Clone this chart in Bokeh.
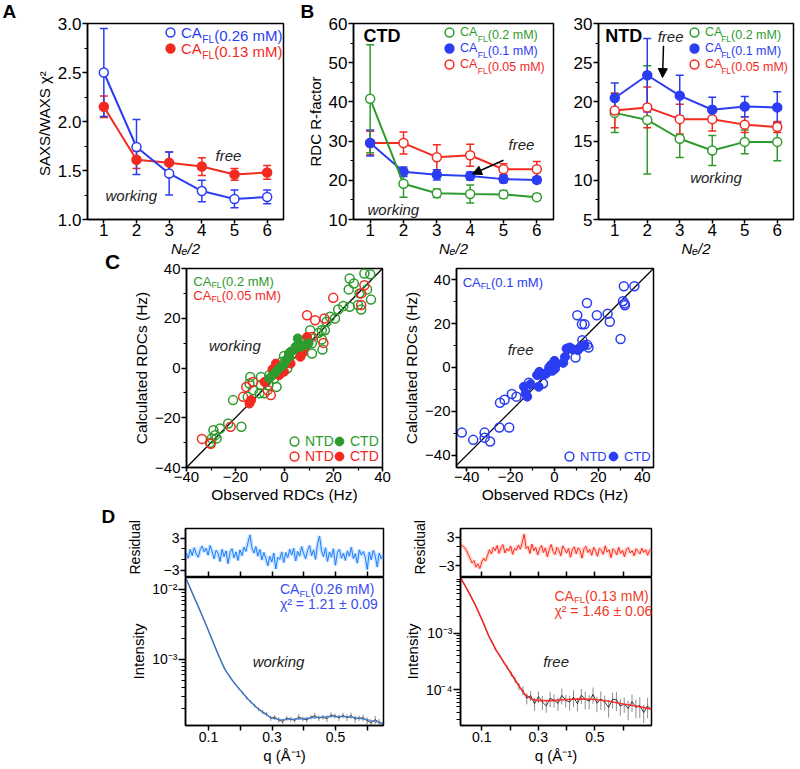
import numpy as np
from bokeh.plotting import figure
from bokeh.layouts import column, row
from bokeh.models import (Range1d, SingleIntervalTicker, FixedTicker, Label, Legend, LegendItem,
                          Whisker, TeeHead, ColumnDataSource, Arrow, NormalHead, Slope,
                          CustomJSTickFormatter, PrintfTickFormatter, Title, Div)
from bokeh.embed import file_html
from bokeh.resources import INLINE

FONT = "Liberation Sans"
BLUE = "#2b3df2"
RED = "#f22a1f"
GREEN = "#2e9b2e"
TXT = "#222222"

# ---------------- data ----------------
ne = [1, 2, 3, 4, 5, 6]
a_blue = [2.50, 1.74, 1.47, 1.29, 1.21, 1.23]
a_blue_err = [0.45, 0.28, 0.22, 0.11, 0.09, 0.07]
a_red = [2.15, 1.61, 1.58, 1.54, 1.46, 1.48]
a_red_err = [0.11, 0.09, 0.11, 0.09, 0.06, 0.07]

ctd_green = [40.8, 19.1, 16.7, 16.5, 16.4, 15.7]
ctd_green_err = [13.8, 3.4, 1.1, 2.3, 1.0, 0.8]
ctd_blue = [29.5, 22.2, 21.4, 21.1, 20.3, 20.1]
ctd_blue_err = [3.3, 1.2, 1.3, 1.0, 0.9, 0.8]
ctd_red = [29.5, 29.5, 25.9, 26.4, 22.8, 22.8]
ctd_red_err = [3.0, 2.8, 3.2, 2.8, 1.4, 2.0]

ntd_green = [18.6, 17.7, 15.3, 13.8, 14.9, 14.9]
ntd_green_err = [2.5, 6.9, 2.4, 1.9, 1.5, 2.4]
ntd_blue = [20.5, 23.4, 20.8, 19.0, 19.4, 19.3]
ntd_blue_err = [1.9, 4.7, 2.6, 1.6, 1.3, 2.0]
ntd_red = [18.9, 19.3, 17.8, 17.8, 17.1, 16.8]
ntd_red_err = [2.2, 2.6, 1.9, 1.5, 1.0, 0.7]

# panel C left (0.2 mM green, 0.05 mM red)
cg_ntd_obs = [26.6, 32.6, 35.0, 26.2, 28.3, 30.6, 33.7, 35.3, 30.0, 26.6, 24.0, 31.3, 21.9, 18.6, 20.6,
              17.2, 16.5, 15.2, 13.9, 10.5, 15.2, 11.2, 8.5, 5.8, 11.2, 7.2, 5.2, 3.8, 1.8, -0.2,
              -0.9, 0.5, -2.2, 1.1, -3.5, -6.2, -4.2, -9.6, -7.6, -14.0, -14.3, -12.9, -9.6, -8.2, -10.2,
              -6.6, -3.2, -15.0, -21.0, -17.6, -23.0, -26.3, -29.0, -28.3, -27.7, -29.7, -30.4, 15.5]
cg_ntd_calc = [36.0, 38.0, 37.7, 31.6, 34.0, 30.0, 31.6, 27.5, 25.3, 24.6, 24.9, 23.5, 23.5, 20.6, 19.9,
               18.6, 15.2, 15.2, 14.1, 15.2, 11.5, 9.9, 11.2, 8.5, 5.8, 7.2, 7.8, 5.8, 3.8, 4.8,
               2.5, 1.8, -0.2, -0.2, -0.9, -2.9, -4.2, -3.6, -5.6, -3.6, -6.2, -8.9, -6.9, -10.2, -10.2,
               -6.9, -7.6, -11.6, -12.9, -23.6, -22.3, -24.3, -25.0, -27.0, -28.3, -28.3, -30.1, 7.4]
cg_ctd_obs = [5.4, 5.8, 4.5, 3.8, 2.5, 1.8, 1.8, 0.7, -0.2, -1.1, -2.2, -3.5, -4.9, -6.2, 6.5, 8.5, 9.8]
cg_ctd_calc = [11.9, 9.9, 8.5, 7.2, 6.5, 5.8, 4.5, 3.2, 1.8, 0.7, -0.2, -1.5, -2.9, -4.2, 8.5, 9.2, 9.9]
cr_ntd_obs = [-33.7, -30.1, -22.0, -16.9, -15.6, -12.9, 9.2, 12.5, 16.3, 19.9, 15.9, 31.3, 32.6, 31.3, 11.2, -6.9, -5.6]
cr_ntd_calc = [-28.5, -30.5, -23.6, -11.6, -7.6, -5.6, 21.2, 19.2, 19.9, 28.2, 10.1, 30.0, 33.3, 25.3, 12.5, -8.9, -10.9]
cr_ctd_obs = [-14.3, -13.6, -4.9, -3.5, -0.2, 2.5, 6.5, 8.5, 9.2, 7.2, -8.2, -2.2]
cr_ctd_calc = [-14.3, -12.9, -0.5, 1.8, -1.5, 1.8, 4.5, 8.5, 12.5, 5.8, -5.6, -2.9]

# panel C right (0.1 mM blue)
cb_ntd_obs = [-42.2, -37.0, -31.8, -31.8, -29.3, -24.8, -22.7, -25.1, -20.6, -19.4, -17.3, -11.6, -13.1, -5.2, 9.6,
              10.4, 14.8, 12.5, 13.7, 12.7, 14.9, 15.5, 19.3, 24.2, 25.2, 30.1, 31.2, 31.6, 36.4, 31.9, 32.1]
cb_ntd_calc = [-29.7, -33.0, -29.7, -32.0, -33.8, -16.1, -14.7, -27.4, -27.4, -12.1, -13.3, -7.0, -9.5, -7.3, 4.5,
               23.8, 29.4, 19.7, 19.7, 12.4, 10.3, 9.1, 23.8, 24.5, 20.8, 13.0, 30.2, 37.0, 37.0, 29.1, 28.3]
cb_ctd_obs = [-13.9, -13.1, -12.4, -7.2, -6.9, -5.7, -4.2, -3.4, -2.4, -1.5, -0.9, 0.0, 1.0, 4.0, 4.8, 5.5,
              7.0, 8.5, 10.7, 12.2, 13.7, -10.9, -7.9, 0.3]
cb_ctd_calc = [-8.8, -11.8, -13.3, -8.8, -2.0, -3.0, -3.0, -2.4, 0.0, 1.1, -1.5, 3.0, 1.8, 2.1, 4.8, 8.6,
               9.1, 8.2, 7.9, 9.4, 10.2, -7.6, -3.5, -0.5]

# panel D residuals
dl_resid = [0.2, -0.8, 0.9, -0.3, 1.2, 0.1, -0.6, 0.8, 1.5, 0.4,
            1.1, -0.2, 1.6, 0.5, -0.9, 0.7, 0.2, -1.4, 0.9, -0.5,
            0.6, -1.8, 0.3, 1.0, -0.7, 0.4, -1.2, 0.8, -0.3, 1.3,
            0.5, 2.1, 3.6, 1.2, 0.2, 1.4, -0.4, 0.9, -1.1, 0.3,
            -0.8, -2.2, -0.4, -1.5, 0.2, -2.8, -0.6, -1.0, 0.4, -1.6,
            0.3, -0.7, 0.9, -0.2, 1.1, -1.3, 0.5, -0.4, 1.4, 0.1,
            -0.9, 0.7, 1.6, -0.3, 0.8, -1.0, 1.9, 3.4, 0.6, -0.5,
            1.2, -1.4, 0.4, -0.6, 1.0, -2.1, 0.3, 0.9, -0.8, 0.2,
            -1.2, 0.6, -0.4, 1.3, -0.9, 0.1, -1.7, 0.8, -0.2, 0.5,
            -0.6, -2.9, 0.4, -1.1, 0.7, -0.3, -2.4, 0.2, -0.9, -0.1]
dr_resid = [1.6, 1.2, 0.9, 0.3, -0.6, -1.5, -2.4, -1.9, -3.3, -2.6,
            -3.6, -2.2, -1.4, -2.0, -0.8, 0.4, -0.5, 0.9, 0.2, 1.3,
            -0.4, 0.8, 1.5, -0.3, 0.6, 0.1, 1.2, -0.6, 0.7, 0.3,
            1.4, 0.5, 1.9, 3.7, 0.6, 1.1, -0.4, 1.6, 0.2, 0.9,
            -0.7, 0.6, 1.3, -0.2, 0.8, -1.1, 0.4, 1.5, 0.0, -0.6,
            0.9, 0.3, -0.9, 1.2, 0.5, -0.3, 0.7, -1.2, 0.4, 1.0,
            -0.5, 0.8, 0.2, -1.4, 0.6, 1.1, -0.2, 0.5, -0.8, 0.9,
            0.1, -1.0, 0.7, 0.3, -0.6, 1.2, -0.1, 0.4, -1.3, 0.6,
            0.2, -0.7, 0.9, -0.4, 0.3, -1.1, 0.5, 0.8, -0.3, 0.2,
            -0.9, 0.6, 0.1, -0.5, 0.7, -0.2, 0.4, -0.8, 0.3, 0.5]
dl_resid_q = np.linspace(0.03, 0.65, len(dl_resid))
dr_resid_q = np.linspace(0.025, 0.70, len(dr_resid))

# panel D intensities (experimental curves and their relative errors)
dl_exp = [1.41e-2, 1.04e-2, 7.6e-3, 5.7e-3, 4.15e-3, 3.05e-3, 2.2e-3, 1.6e-3, 1.16e-3, 8.6e-4,
          6.7e-4, 5.5e-4, 4.6e-4, 3.9e-4, 3.35e-4, 2.85e-4, 2.5e-4, 2.2e-4, 1.95e-4, 1.78e-4,
          1.66e-4, 1.45e-4, 1.50e-4, 1.37e-4, 1.30e-4, 1.45e-4, 1.40e-4, 1.35e-4, 1.51e-4, 1.42e-4,
          1.37e-4, 1.50e-4, 1.57e-4, 1.45e-4, 1.50e-4, 1.43e-4, 1.61e-4, 1.56e-4, 1.47e-4, 1.59e-4,
          1.48e-4, 1.58e-4, 1.41e-4, 1.45e-4, 1.47e-4, 1.34e-4, 1.25e-4, 1.38e-4, 1.27e-4, 1.18e-4]
dl_exp_err = [0.01, 0.01, 0.01, 0.01, 0.01, 0.01, 0.01, 0.01, 0.02, 0.02,
              0.02, 0.03, 0.03, 0.04, 0.04, 0.05, 0.05, 0.06, 0.06, 0.07,
              0.07, 0.08, 0.07, 0.09, 0.08, 0.07, 0.09, 0.08, 0.10, 0.08,
              0.09, 0.07, 0.10, 0.09, 0.08, 0.11, 0.09, 0.08, 0.10, 0.09,
              0.11, 0.10, 0.12, 0.09, 0.11, 0.12, 0.10, 0.13, 0.11, 0.12]
dr_exp = [9.5e-3, 7.2e-3, 5.45e-3, 4.0e-3, 2.95e-3, 2.05e-3, 1.45e-3, 9.7e-4, 7.2e-4, 5.1e-4,
          4.1e-4, 3.1e-4, 2.5e-4, 1.9e-4, 1.5e-4, 1.15e-4, 9.7e-5, 7.1e-5, 7.9e-5, 5.7e-5,
          7.6e-5, 6.1e-5, 5.2e-5, 7.1e-5, 6.6e-5, 5.8e-5, 8.0e-5, 6.5e-5, 6.1e-5, 7.4e-5,
          5.7e-5, 8.0e-5, 6.9e-5, 6.3e-5, 8.3e-5, 5.8e-5, 6.9e-5, 6.1e-5, 4.9e-5, 6.8e-5,
          6.7e-5, 5.2e-5, 5.6e-5, 4.7e-5, 6.2e-5, 4.9e-5, 5.3e-5, 4.0e-5, 5.2e-5, 4.4e-5]
dr_exp_err = [0.01, 0.01, 0.01, 0.01, 0.02, 0.02, 0.02, 0.03, 0.03, 0.04,
              0.05, 0.06, 0.08, 0.10, 0.12, 0.15, 0.18, 0.22, 0.20, 0.25,
              0.23, 0.28, 0.24, 0.30, 0.26, 0.27, 0.31, 0.25, 0.29, 0.33,
              0.27, 0.30, 0.35, 0.28, 0.32, 0.30, 0.36, 0.29, 0.34, 0.31,
              0.37, 0.33, 0.30, 0.38, 0.34, 0.36, 0.40, 0.35, 0.39, 0.42]
dl_exp_q = np.linspace(0.03, 0.65, len(dl_exp))
dr_exp_q = np.linspace(0.025, 0.70, len(dr_exp))

# panel D fitted curves
dl_fit_q = [0.028, 0.05, 0.075, 0.1, 0.125, 0.15, 0.175, 0.2, 0.225, 0.25, 0.275, 0.3, 0.33, 0.36,
            0.40, 0.44, 0.48, 0.52, 0.56, 0.60, 0.651]
dl_fit_I = [1.48e-2, 8.7e-3, 4.79e-3, 2.57e-3, 1.35e-3, 7.41e-4, 5.01e-4, 3.63e-4, 2.69e-4, 2.09e-4,
            1.70e-4, 1.45e-4, 1.38e-4, 1.40e-4, 1.43e-4, 1.48e-4, 1.53e-4, 1.53e-4, 1.48e-4, 1.38e-4, 1.23e-4]
dr_fit_q = [0.025, 0.05, 0.075, 0.1, 0.125, 0.15, 0.175, 0.2, 0.225, 0.25, 0.275, 0.3, 0.35, 0.4,
            0.45, 0.5, 0.55, 0.6, 0.65, 0.70]
dr_fit_I = [9.55e-3, 5.75e-3, 3.31e-3, 1.78e-3, 8.91e-4, 5.13e-4, 3.24e-4, 2.09e-4, 1.32e-4, 8.51e-5,
            6.92e-5, 6.46e-5, 6.46e-5, 6.76e-5, 6.92e-5, 6.76e-5, 6.31e-5, 5.62e-5, 5.13e-5, 4.57e-5]

# ---------------- helpers ----------------
AW = {"C": 0.722, "A": 0.667, "F": 0.611, "L": 0.556}


def make_fig(w, h, xr, yr, bl, br, bt, bb, tick_size="17px", label_size="15px", **kw):
    p = figure(width=w, height=h, x_range=xr, y_range=yr, toolbar_location=None,
               output_backend="svg", min_border_left=bl, min_border_right=br,
               min_border_top=bt, min_border_bottom=bb, **kw)
    p.xgrid.visible = False
    p.ygrid.visible = False
    p.outline_line_color = "black"
    p.outline_line_width = 1.5
    p.outline_line_alpha = 1.0
    for ax in p.axis:
        ax.axis_line_width = 1.5
        ax.major_tick_line_width = 1.5
        ax.minor_tick_line_width = 1.2
        ax.major_tick_out = 5
        ax.major_tick_in = 0
        ax.minor_tick_out = 3
        ax.minor_tick_in = 0
        ax.major_label_text_font = FONT
        ax.major_label_text_font_size = tick_size
        ax.major_label_text_color = "black"
        ax.axis_label_text_font = FONT
        ax.axis_label_text_font_size = label_size
        ax.axis_label_text_font_style = "normal"
        ax.axis_label_text_color = "black"
        ax.major_label_standoff = 1
        ax.axis_label_standoff = 2
    return p


def panel_letter(p, text, offset):
    p.title.text = text
    p.title.align = "left"
    p.title.vertical_align = "top"
    p.title.offset = offset
    p.title.standoff = 0
    p.title.text_font = FONT
    p.title.text_font_size = "19px"
    p.title.text_font_style = "bold"
    p.title.text_color = "black"


def side_title(p, text, standoff, offset):
    p.add_layout(Title(text=text, align="left", vertical_align="middle", standoff=standoff, offset=offset,
                       text_font=FONT, text_font_size="14px", text_font_style="normal",
                       text_color="black"), "left")


def series(p, x, y, err, color, filled):
    src = ColumnDataSource(dict(x=x, y=y,
                                up=[a + b for a, b in zip(y, err)],
                                lo=[a - b for a, b in zip(y, err)]))
    w = Whisker(source=src, base="x", upper="up", lower="lo", line_color=color, line_width=1.5,
                upper_head=TeeHead(size=8, line_color=color, line_width=1.5),
                lower_head=TeeHead(size=8, line_color=color, line_width=1.5), level="underlay")
    p.add_layout(w)
    p.line("x", "y", source=src, line_color=color, line_width=2)
    return p.scatter("x", "y", source=src, marker="circle", size=9, line_color=color, line_width=1.5,
                     fill_color=color if filled else "white")


def key(p, renderer, text, loc, color, size):
    """one legend entry: marker + first word of its text"""
    leg = Legend(items=[LegendItem(label=text, renderers=[renderer])], location=loc,
                 orientation="vertical", glyph_width=22, glyph_height=22, label_height=22,
                 label_width=0, label_standoff=0, padding=0, margin=0, spacing=0,
                 border_line_color=None, background_fill_alpha=0, label_text_font=FONT,
                 label_text_font_size=f"{size}px", label_text_color=color)
    p.add_layout(leg)


def fl_rest(p, x, y, color, rest, size, with_ca=False):
    """subscript FL and the concentration, placed after a 'CA' that starts at (x, y)"""
    sub = size * 0.68
    w_ca = (AW["C"] + AW["A"]) * size
    w_fl = (AW["F"] + AW["L"]) * sub
    common = dict(x=x, y=y, text_color=color, text_font=FONT, text_baseline="middle", text_align="left")
    if with_ca:
        p.add_layout(Label(text="CA", text_font_size=f"{size}px", **common))
    p.add_layout(Label(text="FL", text_font_size=f"{sub}px", x_offset=w_ca, y_offset=-size * 0.3, **common))
    p.add_layout(Label(text=rest, text_font_size=f"{size}px", x_offset=w_ca + w_fl, **common))


def note(p, x, y, text, size="15px", style="italic", color=TXT, align="left"):
    p.add_layout(Label(x=x, y=y, text=text, text_font=FONT, text_font_size=size, text_font_style=style,
                       text_color=color, text_baseline="middle", text_align=align))


def int_ticks(p):
    p.xaxis.ticker = SingleIntervalTicker(interval=1, num_minor_ticks=0)
    p.xaxis.major_tick_out = 4
    p.xaxis.major_label_standoff = 0
    p.xaxis.axis_label_standoff = 1
    p.xaxis.axis_label = "N\u2091/2"
    p.xaxis.axis_label_text_font_style = "italic"


# ---------------- Panel A ----------------
pA = make_fig(300, 259, Range1d(0.5, 6.5), Range1d(1.0, 3.0), 87, 17, 23, 40)
int_ticks(pA)
pA.yaxis.ticker = SingleIntervalTicker(interval=0.5, num_minor_ticks=2)
pA.yaxis.formatter = PrintfTickFormatter(format="%.1f")
pA.yaxis.axis_label = "SAXS/WAXS  \u03c7\u00b2"
rA_red = series(pA, ne, a_red, a_red_err, RED, True)
rA_blue = series(pA, ne, a_blue, a_blue_err, BLUE, False)
key(pA, rA_blue, "CA", (72, 176), BLUE, 15)
key(pA, rA_red, "CA", (72, 160), RED, 15)
fl_rest(pA, 3.377, 2.879, BLUE, "(0.26 mM)", 15)
fl_rest(pA, 3.377, 2.719, RED, " (0.13 mM)", 15)
note(pA, 4.42, 1.65, "free")
note(pA, 1.05, 1.24, "working")
panel_letter(pA, "A", -85)

# ---------------- Panel B CTD ----------------
pB1 = make_fig(270, 259, Range1d(0.5, 6.5), Range1d(10, 60), 53, 17, 23, 40)
int_ticks(pB1)
pB1.yaxis.ticker = SingleIntervalTicker(interval=10, num_minor_ticks=2)
pB1.yaxis.axis_label = "RDC R-factor"
rB1_red = series(pB1, ne, ctd_red, ctd_red_err, RED, False)
rB1_blue = series(pB1, ne, ctd_blue, ctd_blue_err, BLUE, True)
rB1_green = series(pB1, ne, ctd_green, ctd_green_err, GREEN, False)
key(pB1, rB1_green, "CA", (85, 176), GREEN, 12.5)
key(pB1, rB1_blue, "CA", (85, 160), BLUE, 12.5)
key(pB1, rB1_red, "CA", (85, 144), RED, 12.5)
fl_rest(pB1, 3.71, 56.98, GREEN, "(0.2 mM)", 12.5)
fl_rest(pB1, 3.71, 52.96, BLUE, "(0.1 mM)", 12.5)
fl_rest(pB1, 3.71, 48.94, RED, "(0.05 mM)", 12.5)
note(pB1, 0.80, 56.7, "CTD", size="18px", style="bold", color="black")
note(pB1, 5.15, 29.1, "free")
note(pB1, 0.92, 12.5, "working")
pB1.add_layout(Arrow(x_start=5.0, y_start=25.1, x_end=4.07, y_end=21.6, line_width=1.5, line_color="black",
                     end=NormalHead(size=9, fill_color="black", line_color="black")))
panel_letter(pB1, "B", -53)

# ---------------- Panel B NTD ----------------
pB2 = make_fig(230, 259, Range1d(0.5, 6.5), Range1d(5, 30), 25, 7, 23, 40)
int_ticks(pB2)
pB2.yaxis.ticker = SingleIntervalTicker(interval=5, num_minor_ticks=2)
rB2_green = series(pB2, ne, ntd_green, ntd_green_err, GREEN, False)
rB2_red = series(pB2, ne, ntd_red, ntd_red_err, RED, False)
rB2_blue = series(pB2, ne, ntd_blue, ntd_blue_err, BLUE, True)
key(pB2, rB2_green, "CA", (85, 176), GREEN, 12.5)
key(pB2, rB2_blue, "CA", (85, 160), BLUE, 12.5)
key(pB2, rB2_red, "CA", (85, 144), RED, 12.5)
fl_rest(pB2, 3.74, 28.49, GREEN, "(0.2 mM)", 12.5)
fl_rest(pB2, 3.74, 26.48, BLUE, "(0.1 mM)", 12.5)
fl_rest(pB2, 3.74, 24.47, RED, "(0.05 mM)", 12.5)
note(pB2, 0.71, 28.4, "NTD", size="18px", style="bold", color="black")
note(pB2, 2.32, 28.4, "free")
note(pB2, 3.32, 10.4, "working")
pB2.add_layout(Arrow(x_start=2.50, y_start=27.15, x_end=2.47, y_end=23.1, line_width=1.5, line_color="black",
                     end=NormalHead(size=9, fill_color="black", line_color="black")))

# ---------------- Panel C ----------------
divC = Div(text="<div style=\"position:relative; top:-8px; left:105px; font-family:'Liberation Sans';"
                "font-size:21px; font-weight:bold; line-height:1; color:black\">C</div>",
           width=130, height=246, margin=0, styles={"overflow": "visible"})

pCL = make_fig(270, 246, Range1d(-40, 40), Range1d(-40, 40), 53, 18, 9, 38,
               tick_size="15px", label_size="15.5px")
for ax in (pCL.xaxis, pCL.yaxis):
    ax.ticker = SingleIntervalTicker(interval=20, num_minor_ticks=2)
pCL.xaxis.major_tick_out = 4
pCL.xaxis.major_label_standoff = 0
pCL.xaxis.axis_label_standoff = 1
pCL.xaxis.axis_label = "Observed RDCs (Hz)"
pCL.yaxis.axis_label = "Calculated RDCs (Hz)"
pCL.add_layout(Slope(gradient=1, y_intercept=0, line_color="black", line_width=1.3, level="underlay"))
rcg_o = pCL.scatter(cg_ntd_obs, cg_ntd_calc, marker="circle", size=9, fill_color=None, line_color=GREEN, line_width=1.5)
rcr_o = pCL.scatter(cr_ntd_obs, cr_ntd_calc, marker="circle", size=9, fill_color=None, line_color=RED, line_width=1.5)
rcr_f = pCL.scatter(cr_ctd_obs, cr_ctd_calc, marker="circle", size=9, fill_color=RED, line_color=RED, line_width=1.0)
rcg_f = pCL.scatter(cg_ctd_obs, cg_ctd_calc, marker="circle", size=9, fill_color=GREEN, line_color=GREEN, line_width=1.0)
key(pCL, rcg_o, "NTD", (97, 15), GREEN, 14)
key(pCL, rcg_f, "CTD", (142, 15), GREEN, 14)
key(pCL, rcr_o, "NTD", (97, 0), RED, 14)
key(pCL, rcr_f, "CTD", (142, 0), RED, 14)
fl_rest(pCL, -37.2, 34.9, GREEN, "(0.2 mM)", 13, with_ca=True)
fl_rest(pCL, -37.2, 29.2, RED, "(0.05 mM)", 13, with_ca=True)
note(pCL, -30.8, 9.2, "working")

pCR = make_fig(270, 246, Range1d(-44.6, 45.1), Range1d(-45.6, 45.1), 53, 17, 9, 38,
               tick_size="15px", label_size="15.5px")
for ax in (pCR.xaxis, pCR.yaxis):
    ax.ticker = SingleIntervalTicker(interval=20, num_minor_ticks=2)
pCR.xaxis.major_tick_out = 4
pCR.xaxis.major_label_standoff = 0
pCR.xaxis.axis_label_standoff = 1
pCR.xaxis.axis_label = "Observed RDCs (Hz)"
pCR.yaxis.axis_label = "Calculated RDCs (Hz)"
pCR.add_layout(Slope(gradient=1, y_intercept=0, line_color="black", line_width=1.3, level="underlay"))
rcb_o = pCR.scatter(cb_ntd_obs, cb_ntd_calc, marker="circle", size=9, fill_color=None, line_color=BLUE, line_width=1.5)
rcb_f = pCR.scatter(cb_ctd_obs, cb_ctd_calc, marker="circle", size=9, fill_color=BLUE, line_color=BLUE, line_width=1.0)
key(pCR, rcb_o, "NTD", (102, 0), BLUE, 13)
key(pCR, rcb_f, "CTD", (146, 0), BLUE, 13)
fl_rest(pCR, -41.8, 38.9, BLUE, "(0.1 mM)", 13, with_ca=True)
note(pCR, -21.3, 8.4, "free")

# ---------------- Panel D ----------------
xL = Range1d(0.0276, 0.651)
xR = Range1d(0.025, 0.70)
log_fmt = CustomJSTickFormatter(code="""
const e = Math.round(Math.log10(tick));
const sup = {"-1": "\u207b\u00b9", "-2": "\u207b\u00b2", "-3": "\u207b\u00b3", "-4": "\u207b\u2074", "-5": "\u207b\u2075"};
return "10" + sup[String(e)];
""")


def resid_fig(w, xr, yr, bl, br, q, r, color, halo):
    p = make_fig(w, 72, xr, yr, bl, br, 23, 0, tick_size="14px")
    ax = p.xaxis[0]
    ax.ticker = FixedTicker(ticks=[], minor_ticks=[0.1, 0.2, 0.3, 0.4, 0.5, 0.6])
    ax.minor_tick_in = 6
    ax.minor_tick_out = 0
    ax.minor_tick_line_width = 1.5
    ax.major_label_standoff = 0
    ax.axis_label_standoff = 0
    p.yaxis.ticker = FixedTicker(ticks=[-3, 3], minor_ticks=[-1, 1])
    p.yaxis.minor_tick_out = 4
    p.line(q, r, line_color=halo, line_width=4, line_alpha=0.4)
    p.line(q, r, line_color=color, line_width=1)
    return p


def inten_fig(w, xr, yr, bl, br, majors, minors, eq, ei, ee, fq, fi, color, fit_alpha):
    p = make_fig(w, 190, xr, yr, bl, br, 0, 42, tick_size="14px", y_axis_type="log")
    p.xaxis.ticker = FixedTicker(ticks=[0.1, 0.3, 0.5], minor_ticks=[0.2, 0.4, 0.6])
    p.xaxis.minor_tick_out = 5
    p.xaxis.minor_tick_line_width = 1.5
    p.xaxis.axis_label = "q (\u00c5\u207b\u00b9)"
    p.yaxis.ticker = FixedTicker(ticks=majors, minor_ticks=minors)
    p.yaxis.formatter = log_fmt
    p.yaxis.major_tick_out = 7
    p.yaxis.minor_tick_out = 4
    p.yaxis.axis_label = "Intensity"
    lo = [v * (1 - e) for v, e in zip(ei, ee)]
    hi = [v * (1 + e) for v, e in zip(ei, ee)]
    p.segment(x0=eq, y0=lo, x1=eq, y1=hi, line_color="black", line_width=1, line_alpha=0.45)
    p.line(eq, ei, line_color="black", line_width=1, line_alpha=0.75)
    p.line(fq, fi, line_color=color, line_width=1.6, line_alpha=fit_alpha)
    return p


resL = resid_fig(400, xL, Range1d(-4.4, 4.8), 185, 17, dl_resid_q, dl_resid, "#1a7fff", "#7fbaff")
side_title(resL, "Residual", 34, 3)
panel_letter(resL, "D", -84)
intL = inten_fig(400, xL, Range1d(1.14e-4, 1.48e-2), 185, 17, [1e-2, 1e-3],
                 [k * 10.0 ** e for e in (-4, -3) for k in range(2, 10)],
                 dl_exp_q, dl_exp, dl_exp_err, dl_fit_q, dl_fit_I, "#3a7bd5", 0.75)
fl_rest(intL, 0.325, 1.0e-2, "#3a4df0", "(0.26 mM)", 14, with_ca=True)
note(intL, 0.325, 6.25e-3, "\u03c7\u00b2 = 1.21 \u00b1 0.09", size="14px", style="normal", color="#3a4df0")
note(intL, 0.239, 9.4e-4, "working")

resR = resid_fig(270, xR, Range1d(-5.5, 4.9), 52, 19, dr_resid_q, dr_resid, "#ff2a1a", "#ff9a90")
side_title(resR, "Residual", 13, 3)
intR = inten_fig(270, xR, Range1d(2.35e-5, 9.6e-3), 52, 19, [1e-3, 1e-4],
                 [k * 10.0 ** e for e in (-5, -4, -3) for k in range(2, 10)],
                 dr_exp_q, dr_exp, dr_exp_err, dr_fit_q, dr_fit_I, "#ff2020", 0.9)
fl_rest(intR, 0.357, 4.6e-3, "#f03a2a", "(0.13 mM)", 14, with_ca=True)
note(intR, 0.357, 2.5e-3, "\u03c7\u00b2 = 1.46 \u00b1 0.06", size="14px", style="normal", color="#f03a2a")
note(intR, 0.317, 3.2e-4, "free")

layout = column(
    row(pA, pB1, pB2),
    row(divC, pCL, pCR),
    row(column(resL, intL), column(resR, intR)),
)

open("out.html", "w").write(file_html(layout, INLINE))
